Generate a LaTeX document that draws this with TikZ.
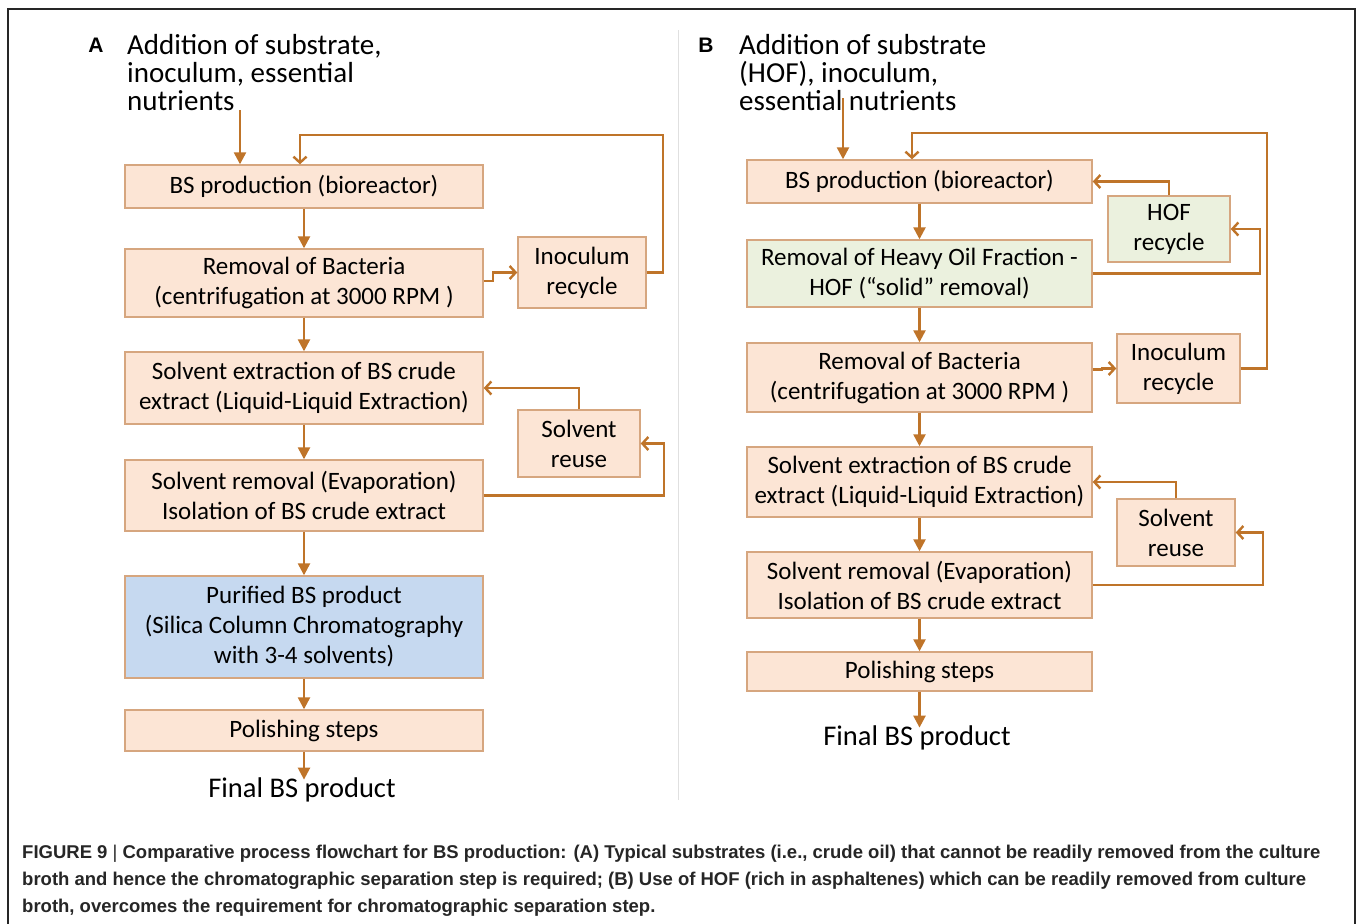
\documentclass[tikz,border=0pt]{standalone}
\usepackage{fontspec}
\setmainfont{Carlito}
\newfontfamily\capfont{Liberation Sans}
\usetikzlibrary{arrows.meta,calc}
\definecolor{boxfill}{HTML}{FCE5D5}
\definecolor{boxline}{HTML}{D6A67F}
\definecolor{greenfill}{HTML}{EBF1DE}
\definecolor{bluefill}{HTML}{C6D9F0}
\definecolor{arrowc}{HTML}{BF7429}
\tikzset{
  box/.style={draw=boxline, fill=boxfill, line width=1.4pt, inner sep=0pt, align=center,
    font=\fontsize{25}{30}\selectfont},
  gbox/.style={box, fill=greenfill},
  bbox/.style={box, fill=bluefill},
  flow/.style={draw=arrowc, line width=2.4pt, -{Triangle[length=12pt,width=12pt]}},
  loopar/.style={draw=arrowc, line width=2.4pt, -{Straight Barb[length=6pt,width=13pt,line width=2.4pt]}},
  head/.style={align=left, inner sep=0pt, anchor=north west, font=\fontsize{29}{28}\selectfont},
  finaltxt/.style={inner sep=0pt, font=\fontsize{28.5}{28}\selectfont},
  panel/.style={inner sep=0pt, font=\capfont\bfseries\fontsize{21}{21}\selectfont},
  captxt/.style={inner sep=0pt, anchor=west, font=\capfont\bfseries\fontsize{18.5}{18.5}\selectfont, text=black!85}
}
\begin{document}
\begin{tikzpicture}[x=1pt,y=-1pt]
\useasboundingbox (0,0) rectangle (1358,924);
\fill[white] (0,0) rectangle (1358,924);
% frame and divider
\draw[line width=2pt, black!85] (8,924) -- (8,9) -- (1355,9) -- (1355,924);
\draw[line width=1pt, black!12] (678,30) -- (678,800);

% ---------- Panel A ----------
\node[panel] (la) at (96,45) {A};
\node[head] (ha) at (127,34) {Addition of substrate,\\inoculum, essential\\nutrients};
\node[box]  (a1) at (304,186.5) [minimum width=358pt, minimum height=43pt] {BS production (bioreactor)};
\node[box]  (a2) at (304,283)   [minimum width=358pt, minimum height=68pt] {Removal of Bacteria\\(centrifugation at 3000 RPM )};
\node[box]  (ai) at (582,272.5) [minimum width=128pt, minimum height=71pt] {Inoculum\\recycle};
\node[box]  (a3) at (304,388)   [minimum width=358pt, minimum height=72pt] {Solvent extraction of BS crude\\extract (Liquid-Liquid Extraction)};
\node[box]  (ar) at (579,443.5) [minimum width=122pt, minimum height=67pt] {Solvent\\reuse};
\node[box]  (a4) at (304,495.5) [minimum width=358pt, minimum height=71pt] {Solvent removal (Evaporation)\\Isolation of BS crude extract};
\node[bbox] (a5) at (304,627)   [minimum width=358pt, minimum height=102pt] {Purified BS product\\(Silica Column Chromatography\\with 3-4 solvents)};
\node[box]  (a6) at (304,730.5) [minimum width=358pt, minimum height=41pt] {Polishing steps};
\node[finaltxt] (af) at (302,790) {Final BS product};

\coordinate (ain) at (240,110);
\draw[flow] (ain) -- (ain |- a1.north);
\draw[flow] (a1.south) -- (a2.north);
\draw[flow] (a2.south) -- (a3.north);
\draw[flow] (a3.south) -- (a4.north);
\draw[flow] (a4.south) -- (a5.north);
\draw[flow] (a5.south) -- (a6.north);
\draw[flow] (a6.south) -- ($(a6.south |- af.north)+(0,2)$);
\draw[loopar] (ai.east) -| (663,135) -| ([xshift=-4pt]a1.north);
\draw[loopar] ($(a2.east)+(0,-2)$) -- ++(9,0) |- (ai.west);
\draw[loopar] (ar.north) |- (a3.east);
\draw[loopar] (a4.east) -- ++(180,0) |- (ar.east);

% ---------- Panel B ----------
\node[panel] (lb) at (706,45) {B};
\node[head] (hb) at (739,34) {Addition of substrate\\(HOF), inoculum,\\essential nutrients};
\node[box]  (b1) at (919.5,181.5) [minimum width=345pt, minimum height=43pt] {BS production (bioreactor)};
\node[gbox] (bh) at (1169,229)    [minimum width=122pt, minimum height=66pt] {HOF\\recycle};
\node[gbox] (b2) at (919.5,273.5) [minimum width=345pt, minimum height=67pt] {Removal of Heavy Oil Fraction -\\HOF (“solid” removal)};
\node[box]  (b3) at (919.5,377.5) [minimum width=345pt, minimum height=69pt] {Removal of Bacteria\\(centrifugation at 3000 RPM )};
\node[box]  (bi) at (1178.5,368.5)  [minimum width=123pt, minimum height=69pt] {Inoculum\\recycle};
\node[box]  (b4) at (919.5,482)   [minimum width=345pt, minimum height=70pt] {Solvent extraction of BS crude\\extract (Liquid-Liquid Extraction)};
\node[box]  (br) at (1176,532.5)  [minimum width=118pt, minimum height=67pt] {Solvent\\reuse};
\node[box]  (b5) at (919.5,585)   [minimum width=345pt, minimum height=66pt] {Solvent removal (Evaporation)\\Isolation of BS crude extract};
\node[box]  (b6) at (919.5,671.5) [minimum width=345pt, minimum height=39pt] {Polishing steps};
\node[finaltxt] (bf) at (917,738) {Final BS product};

\coordinate (bin) at (843,98);
\draw[flow] (bin) -- (bin |- b1.north);
\draw[flow] (b1.south) -- (b2.north);
\draw[flow] (b2.south) -- (b3.north);
\draw[flow] (b3.south) -- (b4.north);
\draw[flow] (b4.south) -- (b5.north);
\draw[flow] (b5.south) -- (b6.north);
\draw[flow] (b6.south) -- ($(b6.south |- bf.north)+(0,2)$);
\draw[loopar] (bi.east) -| (1267,133) -| ([xshift=-7.5pt]b1.north);
\draw[loopar] (bh.north) |- (b1.east);
\draw[loopar] (b2.east) -- ++(167,0) |- (bh.east);
\draw[loopar] ($(b3.east)+(0,-8)$) -- ++(9,0) |- (bi.west);
\draw[loopar] (br.north) |- (b4.east);
\draw[loopar] (b5.east) -- ++(170,0) |- (br.east);

% ---------- Caption ----------
\node[captxt] (c1) at (22,854) {FIGURE 9 {\mdseries|} Comparative process flowchart for BS production: (A) Typical substrates (i.e., crude oil) that cannot be readily removed from the culture};
\node[captxt] (c2) at (22,881) {broth and hence the chromatographic separation step is required; (B) Use of HOF (rich in asphaltenes) which can be readily removed from culture};
\node[captxt] (c3) at (22,908) {broth, overcomes the requirement for chromatographic separation step.};
\end{tikzpicture}
\end{document}
